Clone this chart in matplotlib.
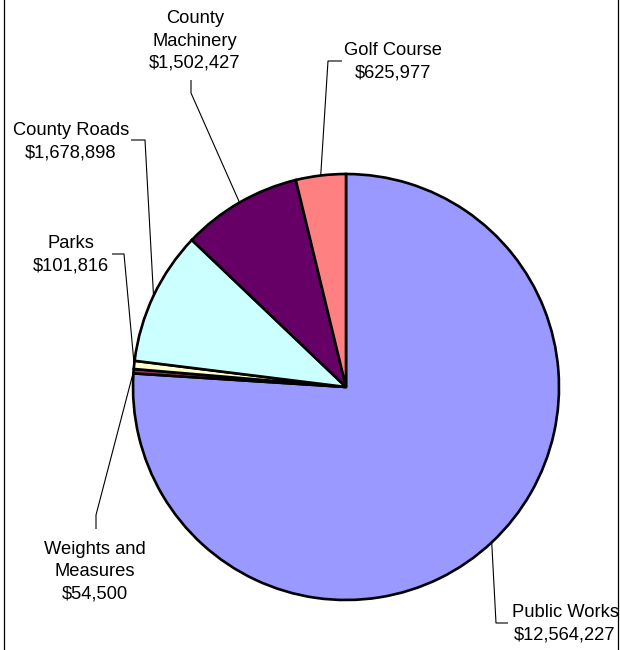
import numpy as np
import matplotlib
matplotlib.use("Agg")
import matplotlib.pyplot as plt
from matplotlib.lines import Line2D

# Budget by department (dollars), in drawing order clockwise from 12 o'clock
departments = ["Public Works", "Weights and\nMeasures", "Parks",
               "County Roads", "County\nMachinery", "Golf Course"]
amounts = [12564227, 54500, 101816, 1678898, 1502427, 625977]
colors = ["#9999FF", "#993366", "#FFFFCC", "#CCFFFF", "#660066", "#FF8080"]

W, H = 620, 650
fig = plt.figure(figsize=(W / 100, H / 100), dpi=100)
ax = fig.add_axes([0, 0, 1, 1])


def px(x, y):
    """Convert top-left pixel coordinates to axes data coordinates."""
    return x, H - y


cx, cy = px(346, 387)
wedges, _ = ax.pie(amounts, colors=colors, startangle=90, counterclock=False,
                   center=(cx, cy), radius=213,
                   wedgeprops=dict(edgecolor="black", linewidth=1.9))
ax.set_xlim(0, W)
ax.set_ylim(0, H)
ax.set_aspect("equal")
ax.axis("off")

# Label placement: text centre, then leader elbow and leader end (pixels)
layout = {
    "Public Works": ((565, 624), [(496, 623), (508, 623)]),
    "Weights and\nMeasures": ((95, 572), [(96, 515), (96, 529)]),
    "Parks": ((71, 255), [(124, 254), (112, 254)]),
    "County Roads": ((71, 142), [(145, 140), (131, 140)]),
    "County\nMachinery": ((195, 41), [(191, 93), (191, 80)]),
    "Golf Course": ((393, 62), [(328, 61), (342, 61)]),
}

for w, name, amt in zip(wedges, departments, amounts):
    mid = np.deg2rad(0.5 * (w.theta1 + w.theta2))
    sx = w.center[0] + w.r * np.cos(mid)
    sy = w.center[1] + w.r * np.sin(mid)
    (tx, ty), pts = layout[name]
    xs = [sx] + [px(*p)[0] for p in pts]
    ys = [sy] + [px(*p)[1] for p in pts]
    ax.plot(xs, ys, color="black", linewidth=0.8, solid_capstyle="butt")
    ax.text(*px(tx, ty), f"{name}\n${amt:,}", ha="center", va="center",
            fontsize=13.2, family="Liberation Sans", linespacing=1.42,
            color="black")

# Thin frame lines on the left and right edges
for xf in (3.5 / W, 617.5 / W):
    fig.add_artist(Line2D([xf, xf], [0, 1], transform=fig.transFigure,
                          color="black", linewidth=0.9))

fig.savefig("out.png", dpi=100)
